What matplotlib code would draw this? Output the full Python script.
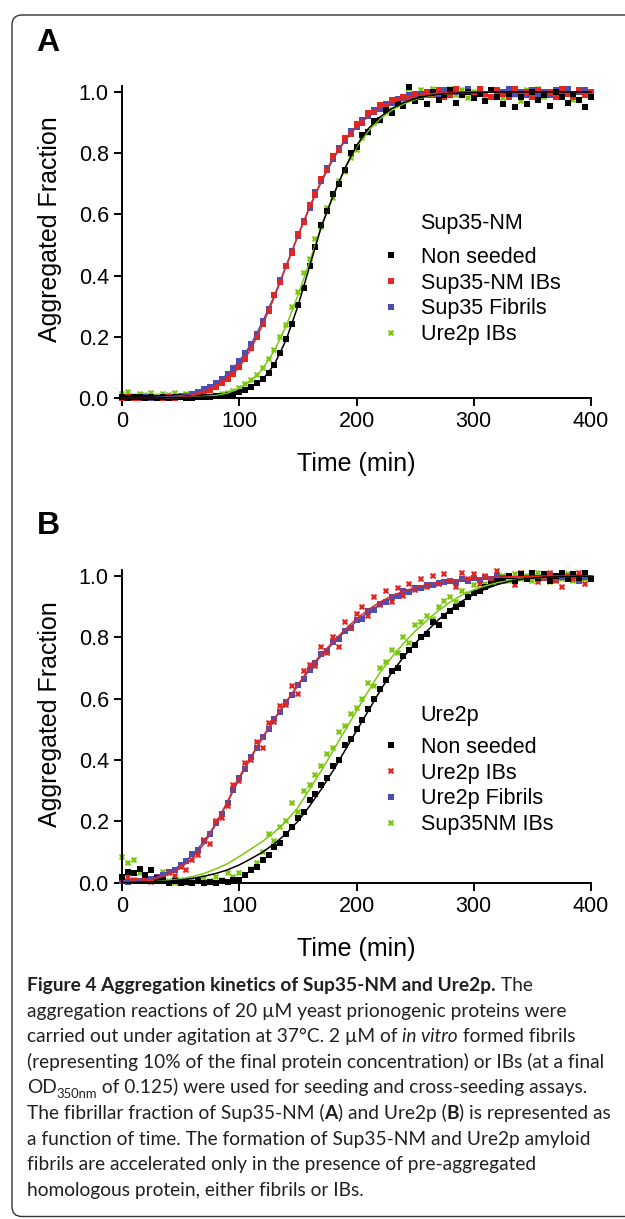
import numpy as np
import matplotlib
matplotlib.use("Agg")
import matplotlib.pyplot as plt
from matplotlib.patches import FancyBboxPatch

plt.rcParams['font.family'] = ['Liberation Sans', 'DejaVu Sans']

W, H = 625, 1219

# sampling times (min)
t_pts = np.arange(0, 401, 5)
t_fit = np.arange(0, 401, 10)

# ---- panel A : Sup35-NM ----
a_black = [0.004, 0.000, 0.003, 0.002, 0.000, 0.004, 0.001, 0.003, 0.000, 0.002,
           0.004, 0.001, 0.000, 0.003, 0.002, 0.004, 0.005, 0.008, 0.010, 0.014,
           0.020, 0.026, 0.036, 0.048, 0.063, 0.082, 0.108, 0.148, 0.192, 0.243,
           0.305, 0.360, 0.432, 0.495, 0.565, 0.610, 0.668, 0.700, 0.745, 0.800,
           0.820, 0.860, 0.870, 0.905, 0.910, 0.940, 0.930, 0.962, 0.955, 1.015,
           0.970, 0.985, 0.960, 1.000, 0.975, 0.990, 1.005, 0.965, 0.990, 1.000,
           0.980, 0.995, 0.970, 1.005, 0.985, 0.960, 0.995, 0.950, 0.985, 0.960,
           1.000, 0.975, 0.990, 0.955, 1.000, 0.985, 0.965, 0.995, 0.975, 0.950,
           0.985]
a_red = [0.000, 0.002, 0.000, 0.001, 0.000, 0.002, 0.001, 0.000, 0.002, 0.001,
         0.003, 0.004, 0.008, 0.012, 0.018, 0.026, 0.037, 0.048, 0.062, 0.080,
         0.100, 0.128, 0.162, 0.198, 0.243, 0.283, 0.335, 0.378, 0.433, 0.475,
         0.535, 0.575, 0.630, 0.665, 0.715, 0.745, 0.790, 0.810, 0.850, 0.862,
         0.895, 0.900, 0.930, 0.935, 0.958, 0.955, 0.975, 0.970, 0.985, 0.980,
         0.995, 0.985, 1.000, 0.990, 1.005, 0.985, 0.995, 1.010, 0.990, 1.000,
         0.985, 1.010, 0.995, 0.985, 1.005, 0.995, 0.985, 1.010, 0.990, 1.000,
         0.985, 1.005, 0.990, 1.000, 0.985, 1.010, 0.995, 0.985, 1.005, 0.990,
         1.000]
a_blue = [0.001, 0.000, 0.002, 0.000, 0.003, 0.001, 0.000, 0.002, 0.003, 0.004,
          0.006, 0.008, 0.014, 0.020, 0.028, 0.037, 0.050, 0.063, 0.080, 0.098,
          0.122, 0.146, 0.178, 0.208, 0.252, 0.290, 0.338, 0.385, 0.430, 0.482,
          0.528, 0.578, 0.622, 0.672, 0.708, 0.752, 0.782, 0.818, 0.840, 0.872,
          0.885, 0.910, 0.920, 0.940, 0.945, 0.962, 0.965, 0.978, 0.980, 0.990,
          0.985, 0.995, 0.990, 1.000, 0.995, 1.005, 0.990, 1.000, 0.995, 1.010,
          0.990, 1.000, 0.995, 1.005, 0.990, 1.000, 1.010, 0.995, 1.000, 0.990,
          1.005, 0.995, 1.000, 0.990, 1.005, 0.995, 1.010, 0.990, 1.000, 1.005,
          0.995]
a_green = [0.012, 0.018, 0.008, 0.014, 0.010, 0.016, 0.006, 0.014, 0.010, 0.015,
           0.008, 0.012, 0.006, 0.008, 0.004, 0.006, 0.008, 0.012, 0.016, 0.022,
           0.032, 0.045, 0.058, 0.075, 0.098, 0.128, 0.158, 0.200, 0.240, 0.298,
           0.345, 0.408, 0.455, 0.520, 0.560, 0.620, 0.655, 0.710, 0.740, 0.785,
           0.810, 0.850, 0.865, 0.900, 0.905, 0.935, 0.940, 0.960, 0.970, 1.010,
           0.985, 1.005, 0.990, 1.010, 0.975, 1.000, 1.010, 0.990, 1.005, 0.980,
           1.000, 1.010, 0.985, 1.005, 0.995, 0.980, 1.010, 0.990, 0.970, 1.005,
           0.995, 1.010, 0.985, 1.000, 0.990, 1.010, 0.995, 0.975, 1.005, 0.990,
           0.985]

a_black_fit = [0.0, 0.0, 0.0, 0.0, 0.001, 0.001, 0.002, 0.003, 0.004, 0.009,
               0.018, 0.034, 0.060, 0.110, 0.190, 0.300, 0.430, 0.560, 0.660, 0.750,
               0.825, 0.880, 0.918, 0.946, 0.965, 0.978, 0.987, 0.992, 0.995, 0.997,
               0.998, 0.999, 1.0, 1.0, 1.0, 1.0, 1.0, 1.0, 1.0, 1.0, 1.0]
a_red_fit = [0.0, 0.0, 0.0, 0.001, 0.001, 0.002, 0.007, 0.017, 0.035, 0.060,
             0.100, 0.160, 0.240, 0.330, 0.430, 0.530, 0.625, 0.710, 0.785, 0.843,
             0.888, 0.922, 0.948, 0.966, 0.979, 0.988, 0.993, 0.996, 0.998, 0.999,
             1.0, 1.0, 1.0, 1.0, 1.0, 1.0, 1.0, 1.0, 1.0, 1.0, 1.0]
a_blue_fit = [0.0, 0.0, 0.001, 0.002, 0.004, 0.008, 0.015, 0.027, 0.048, 0.078,
              0.120, 0.175, 0.250, 0.335, 0.432, 0.530, 0.622, 0.706, 0.780, 0.840,
              0.886, 0.920, 0.946, 0.965, 0.978, 0.987, 0.992, 0.996, 0.998, 0.999,
              1.0, 1.0, 1.0, 1.0, 1.0, 1.0, 1.0, 1.0, 1.0, 1.0, 1.0]
a_green_fit = [0.0, 0.0, 0.0, 0.001, 0.001, 0.002, 0.003, 0.005, 0.008, 0.016,
               0.031, 0.055, 0.095, 0.155, 0.235, 0.335, 0.445, 0.560, 0.660, 0.748,
               0.820, 0.872, 0.912, 0.940, 0.961, 0.975, 0.985, 0.991, 0.995, 0.997,
               0.998, 0.999, 1.0, 1.0, 1.0, 1.0, 1.0, 1.0, 1.0, 1.0, 1.0]

# ---- panel B : Ure2p ----
b_black = [0.020, 0.035, 0.030, 0.045, 0.025, 0.040, 0.015, 0.010, 0.000, 0.005,
           0.000, 0.002, 0.000, 0.004, 0.000, 0.003, 0.000, 0.005, 0.002, 0.008,
           0.010, 0.025, 0.040, 0.050, 0.075, 0.090, 0.115, 0.130, 0.160, 0.180,
           0.210, 0.230, 0.270, 0.290, 0.320, 0.340, 0.380, 0.400, 0.450, 0.470,
           0.500, 0.530, 0.565, 0.600, 0.630, 0.660, 0.690, 0.700, 0.740, 0.760,
           0.775, 0.800, 0.810, 0.850, 0.840, 0.870, 0.885, 0.900, 0.910, 0.930,
           0.945, 0.950, 0.965, 0.975, 0.985, 0.990, 1.000, 0.985, 1.005, 0.990,
           1.010, 0.995, 1.005, 0.985, 1.000, 1.010, 0.990, 1.005, 0.995, 1.010,
           0.990]
b_red = [0.015, 0.020, 0.010, 0.005, 0.012, 0.003, 0.018, 0.010, 0.030, 0.022,
         0.050, 0.040, 0.075, 0.090, 0.140, 0.125, 0.200, 0.210, 0.250, 0.320,
         0.330, 0.390, 0.400, 0.460, 0.440, 0.520, 0.525, 0.575, 0.580, 0.640,
         0.615, 0.690, 0.710, 0.705, 0.770, 0.750, 0.800, 0.770, 0.850, 0.830,
         0.875, 0.900, 0.870, 0.930, 0.905, 0.950, 0.915, 0.960, 0.935, 0.975,
         0.955, 0.990, 0.965, 1.000, 0.975, 1.005, 0.985, 0.965, 1.010, 0.990,
         1.005, 0.975, 1.000, 0.990, 1.015, 0.985, 1.000, 0.970, 1.010, 0.990,
         1.005, 0.980, 0.995, 1.010, 0.985, 0.965, 1.000, 0.990, 1.010, 0.975,
         0.995]
b_blue = [0.005, 0.002, 0.006, 0.004, 0.010, 0.012, 0.020, 0.024, 0.036, 0.043,
          0.058, 0.070, 0.092, 0.108, 0.137, 0.160, 0.195, 0.225, 0.260, 0.302,
          0.340, 0.370, 0.410, 0.438, 0.475, 0.500, 0.535, 0.558, 0.590, 0.612,
          0.645, 0.665, 0.695, 0.715, 0.745, 0.755, 0.785, 0.795, 0.820, 0.830,
          0.855, 0.860, 0.885, 0.890, 0.910, 0.915, 0.930, 0.935, 0.950, 0.948,
          0.960, 0.962, 0.970, 0.972, 0.978, 0.980, 0.985, 0.982, 0.990, 0.985,
          0.995, 0.988, 0.998, 0.990, 1.000, 0.992, 1.000, 0.985, 0.998, 0.992,
          1.000, 0.990, 0.995, 1.002, 0.988, 0.998, 0.990, 1.000, 0.985, 0.998,
          0.990]
b_green = [0.085, 0.065, 0.075, 0.030, 0.020, 0.040, 0.010, 0.035, 0.005, 0.000,
           0.008, 0.000, 0.010, 0.005, 0.015, 0.005, 0.020, 0.010, 0.030, 0.020,
           0.030, 0.025, 0.045, 0.065, 0.100, 0.160, 0.135, 0.180, 0.200, 0.260,
           0.230, 0.300, 0.320, 0.350, 0.380, 0.420, 0.440, 0.490, 0.510, 0.550,
           0.570, 0.600, 0.650, 0.640, 0.700, 0.720, 0.760, 0.750, 0.800, 0.780,
           0.840, 0.850, 0.870, 0.860, 0.900, 0.920, 0.930, 0.915, 0.950, 0.940,
           0.970, 0.955, 0.975, 0.990, 0.980, 1.000, 0.985, 1.005, 0.990, 1.000,
           0.985, 1.010, 0.995, 0.980, 1.000, 0.990, 1.005, 0.985, 1.000, 0.990,
           0.995]

b_black_fit = [0.0, 0.001, 0.002, 0.003, 0.005, 0.009, 0.014, 0.021, 0.030, 0.042,
               0.058, 0.078, 0.100, 0.127, 0.160, 0.200, 0.250, 0.305, 0.365, 0.430,
               0.495, 0.560, 0.625, 0.685, 0.735, 0.780, 0.820, 0.858, 0.890, 0.918,
               0.940, 0.958, 0.972, 0.982, 0.989, 0.993, 0.996, 0.997, 0.998, 0.999, 0.999]
b_red_fit = [0.0, 0.002, 0.006, 0.014, 0.027, 0.048, 0.080, 0.127, 0.190, 0.265,
             0.345, 0.410, 0.475, 0.535, 0.590, 0.645, 0.700, 0.745, 0.785, 0.825,
             0.860, 0.890, 0.915, 0.935, 0.950, 0.962, 0.972, 0.980, 0.985, 0.989,
             0.992, 0.994, 0.996, 0.997, 0.998, 0.999, 0.999, 0.999, 0.999, 0.999, 0.999]
b_blue_fit = [0.0, 0.003, 0.009, 0.019, 0.034, 0.057, 0.090, 0.135, 0.192, 0.262,
              0.338, 0.408, 0.472, 0.532, 0.588, 0.642, 0.695, 0.740, 0.780, 0.818,
              0.852, 0.882, 0.907, 0.928, 0.945, 0.958, 0.968, 0.976, 0.982, 0.987,
              0.990, 0.993, 0.995, 0.996, 0.997, 0.998, 0.999, 0.999, 0.999, 0.999, 0.999]
b_green_fit = [0.0, 0.001, 0.002, 0.004, 0.007, 0.012, 0.020, 0.030, 0.045, 0.062,
               0.085, 0.110, 0.135, 0.165, 0.200, 0.245, 0.305, 0.365, 0.430, 0.495,
               0.560, 0.625, 0.685, 0.735, 0.780, 0.820, 0.855, 0.888, 0.915, 0.938,
               0.955, 0.968, 0.978, 0.985, 0.990, 0.993, 0.995, 0.997, 0.998, 0.999, 0.999]

labels_a = ["Non seeded", "Sup35-NM IBs", "Sup35 Fibrils", "Ure2p IBs"]
labels_b = ["Non seeded", "Ure2p IBs", "Ure2p Fibrils", "Sup35NM IBs"]
colors = ["#000000", "#e4261f", "#4b4fb4", "#7cc810"]

fig = plt.figure(figsize=(W / 100, H / 100), dpi=100)


def panel(y0_px, y1_px, pts, fits, labels, markers, title, leg_top, title_y, letter, letter_y):
    span = y0_px - y1_px
    ax = fig.add_axes([122 / W, 1 - y0_px / H, 469 / W, 1.02 * span / H])
    # draw order: green, blue, red, black
    for i in [3, 2, 1, 0]:
        ax.plot(t_pts, pts[i], ls="none", marker=markers[i], ms=3.7 if markers[i] == "s" else 4.8,
                mew=0, color=colors[i], clip_on=False, zorder=2, label=labels[i])
    for i in [3, 2, 1, 0]:
        ax.plot(t_fit, fits[i], color=colors[i], lw=1.1, zorder=3, clip_on=False)
    ax.set_xlim(0, 400)
    ax.set_ylim(0, 1.02)
    ax.set_xticks([0, 100, 200, 300, 400])
    ax.set_yticks([0.0, 0.2, 0.4, 0.6, 0.8, 1.0])
    ax.set_yticklabels(["0.0", "0.2", "0.4", "0.6", "0.8", "1.0"])
    for s in ["top", "right"]:
        ax.spines[s].set_visible(False)
    for s in ["left", "bottom"]:
        ax.spines[s].set_linewidth(1.4)
    ax.tick_params(direction="out", length=6, width=1.4, labelsize=15.5, pad=3.5)
    ax.set_xlabel("Time (min)", fontsize=18, va="center")
    ax.xaxis.set_label_coords(0.5, -66 / (1.02 * span))
    ax.set_ylabel("Aggregated Fraction", fontsize=18, va="center")
    ax.yaxis.set_label_coords((50 - 122) / 469, 169 / (1.02 * span))

    h, l = ax.get_legend_handles_labels()
    order = [l.index(x) for x in labels]
    ax.legend([h[k] for k in order], [l[k] for k in order], loc="upper left",
              bbox_to_anchor=(380.5 / W, 1 - leg_top / H), bbox_transform=fig.transFigure,
              frameon=False, fontsize=15.5, handlelength=1.0, handletextpad=0.88,
              labelspacing=0.22, borderpad=0, borderaxespad=0, markerscale=1.0)
    fig.text(420 / W, 1 - title_y / H, title, fontsize=15.5, va="center", ha="left")
    fig.text(48 / W, 1 - letter_y / H, letter, fontsize=23, weight="bold", va="center", ha="center")
    return ax


panel(398, 92, [a_black, a_red, a_blue, a_green],
      [a_black_fit, a_red_fit, a_blue_fit, a_green_fit],
      labels_a, ["s", "s", "s", "X"], "Sup35-NM", 247, 223, "A", 43)
panel(882.7, 576, [b_black, b_red, b_blue, b_green],
      [b_black_fit, b_red_fit, b_blue_fit, b_green_fit],
      labels_b, ["s", "X", "s", "X"], "Ure2p", 737, 715, "B", 526)

# frame round the figure
box = FancyBboxPatch((0.12, 0.025), 7.0, 12.04 - 0.025, boxstyle="round,pad=0,rounding_size=0.1",
                     transform=fig.dpi_scale_trans, fill=False, lw=1.0, ec="#333333")
fig.add_artist(box)

# caption
renderer = fig.canvas.get_renderer()
cap_font = ["Lato", "DejaVu Sans"]


def text_width(s, **kw):
    a = fig.text(0, 0, "|" + s + "|", **kw)
    b = fig.text(0, 0, "||", **kw)
    w = a.get_window_extent(renderer).width - b.get_window_extent(renderer).width
    a.remove()
    b.remove()
    return w


cap_lines = [
    [("Figure 4 Aggregation kinetics of Sup35-NM and Ure2p.", "b"), (" The", "n")],
    [("aggregation reactions of 20 \u00b5M yeast prionogenic proteins were", "n")],
    [("carried out under agitation at 37\u00b0C. 2 \u00b5M of ", "n"), ("in vitro", "i"), (" formed fibrils", "n")],
    [("(representing 10% of the final protein concentration) or IBs (at a final", "n")],
    [("OD", "n"), ("350nm", "sub"), (" of 0.125) were used for seeding and cross-seeding assays.", "n")],
    [("The fibrillar fraction of Sup35-NM (", "n"), ("A", "b"), (") and Ure2p (", "n"), ("B", "b"),
     (") is represented as", "n")],
    [("a function of time. The formation of Sup35-NM and Ure2p amyloid", "n")],
    [("fibrils are accelerated only in the presence of pre-aggregated", "n")],
    [("homologous protein, either fibrils or IBs.", "n")],
]

# size the caption so the widest line fills the frame like the original
w10 = text_width(cap_lines[3][0][0], family=cap_font, fontsize=10)
cap_size = 10 * 580 / w10

for k, line in enumerate(cap_lines):
    x = 27.0
    y = 991 + 25.6 * k
    for s, st in line:
        kw = dict(family=cap_font, fontsize=cap_size)
        dy = 0
        if st == "b":
            kw["weight"] = "bold"
        elif st == "i":
            kw["style"] = "italic"
        elif st == "sub":
            kw["fontsize"] = cap_size * 0.68
            dy = cap_size * 1.389 * 0.22
        fig.text(x / 100, (H - y - dy) / 100, s, transform=fig.dpi_scale_trans,
                 ha="left", va="baseline", color="#231f20", **kw)
        x += text_width(s, **kw)

fig.savefig("out.png", dpi=100)
